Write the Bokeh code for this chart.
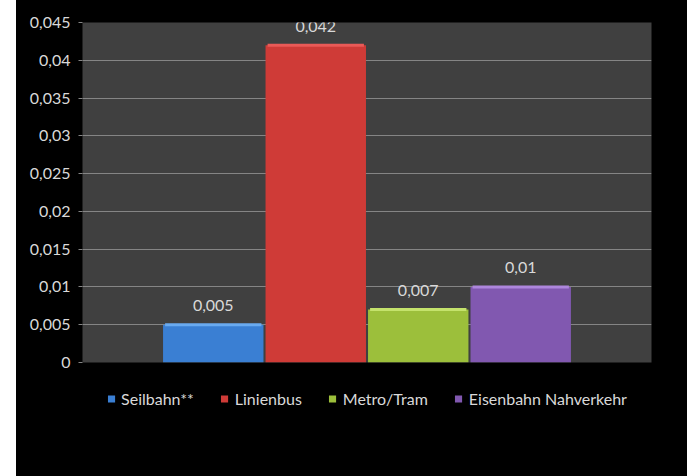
from bokeh.plotting import figure
from bokeh.models import Range1d, FixedTicker, Legend, LegendItem, ColumnDataSource, Spacer
from bokeh.layouts import row, column
from bokeh.embed import file_html
from bokeh.resources import INLINE
from bokeh.core.properties import value

# ---- data ----
series = ["Seilbahn**", "Linienbus", "Metro/Tram", "Eisenbahn Nahverkehr"]
values = [0.005, 0.042, 0.007, 0.01]
value_labels = ["0,005", "0,042", "0,007", "0,01"]
y_ticks = [0, 0.005, 0.01, 0.015, 0.02, 0.025, 0.03, 0.035, 0.04, 0.045]
y_tick_labels = ["0", "0,005", "0,01", "0,015", "0,02", "0,025", "0,03", "0,035", "0,04", "0,045"]

# ---- style ----
colors = ["#3a7fd3", "#cf3b37", "#9cbf3b", "#8158b0"]
highlights = ["#69aaf0", "#ea5a57", "#c4e26c", "#ad86dc"]
FONT = "Lato"
TXT = "#d9d9d9"

n = len(series)
xs = [i - (n - 1) / 2 for i in range(n)]
XR = (-2.776, 2.776)

p = figure(width=671, height=371, output_backend="svg", toolbar_location=None,
           x_range=Range1d(*XR), y_range=Range1d(0, 0.045),
           background_fill_color="#404040", border_fill_color="black",
           min_border_left=66, min_border_right=36, min_border_top=19, min_border_bottom=12)
p.outline_line_color = None
p.xaxis.visible = False
p.xgrid.grid_line_color = None
p.ygrid.grid_line_color = "#858585"
p.ygrid.grid_line_width = 1

ax = p.yaxis[0]
ax.ticker = FixedTicker(ticks=y_ticks)
ax.major_label_overrides = {t: l for t, l in zip(y_ticks, y_tick_labels)}
ax.axis_line_color = None
ax.major_tick_line_color = "#858585"
ax.major_tick_out = 4
ax.major_tick_in = 0
ax.minor_tick_line_color = None
ax.major_label_standoff = 8
ax.major_label_text_color = TXT
ax.major_label_text_font = FONT
ax.major_label_text_font_size = "16px"

for i in range(n):
    src = ColumnDataSource(dict(x=[xs[i]], top=[values[i]]))
    p.vbar(x="x", top="top", bottom=0, width=0.98, source=src,
           fill_color=colors[i], line_color=None)
    p.segment(x0=[xs[i] - 0.47], x1=[xs[i] + 0.47], y0=[values[i]], y1=[values[i]],
              line_color=highlights[i], line_width=3)

lab = ColumnDataSource(dict(x=xs, y=values, t=value_labels))
p.text(x="x", y="y", text="t", source=lab, text_align="center", text_baseline="middle",
       y_offset=-19, text_color=TXT, text_font=value(FONT), text_font_size="16px")

# ---- legend strip below the chart (proxy bars lie outside its visible y range) ----
lf = figure(width=671, height=102, output_backend="svg", toolbar_location=None,
            x_range=Range1d(*XR), y_range=Range1d(1, 2),
            x_axis_type=None, y_axis_type=None,
            background_fill_color="black", border_fill_color="black",
            min_border_left=66, min_border_right=36, min_border_top=0, min_border_bottom=0)
lf.outline_line_color = None
items = []
for i in range(n):
    r = lf.vbar(x=[xs[i]], top=[values[i]], bottom=0, width=0.98,
                fill_color=colors[i], line_color=None)
    items.append(LegendItem(label=series[i], renderers=[r]))

legend = Legend(items=items, orientation="horizontal", location="top_center",
                background_fill_color="black", background_fill_alpha=0,
                border_line_color=None, label_text_color=TXT, label_text_font=FONT,
                label_text_font_size="16px", glyph_width=9, glyph_height=9,
                spacing=26, label_standoff=6, padding=5, margin=15)
lf.add_layout(legend)

col = column(Spacer(width=671, height=3), p, lf, spacing=0,
             styles={"background-color": "black"})
layout = row(Spacer(width=16, height=476), col, spacing=0)
open("out.html", "w").write(file_html(layout, INLINE))
